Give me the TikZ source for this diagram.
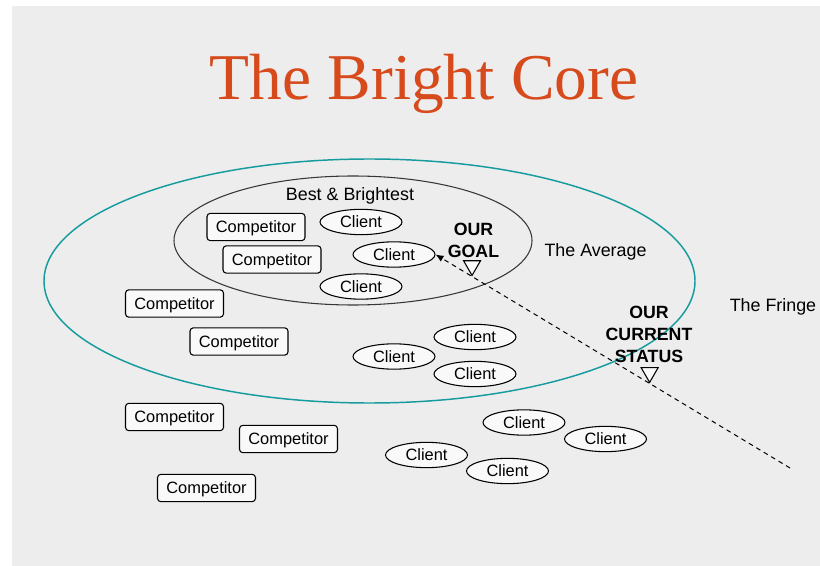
\documentclass[tikz,border=0pt]{standalone}
\usepackage{fontspec}
\setmainfont{Liberation Sans}
\newfontfamily\titlefont{Liberation Serif}
\usetikzlibrary{calc,shapes.geometric,arrows.meta}
\definecolor{coreorange}{RGB}{214,74,28}
\definecolor{coreteal}{RGB}{22,156,158}
\definecolor{coregray}{RGB}{237,237,237}
\definecolor{corefill}{RGB}{249,249,249}
\definecolor{coreline}{RGB}{55,55,55}

\begin{document}
\begin{tikzpicture}[x=0.75pt,y=-0.75pt,
    every node/.style={font=\fontsize{12.3}{14}\selectfont},
    competitor/.style={draw, rectangle, rounded corners=2.5pt, fill=corefill, line width=0.8pt,
      minimum width=73.5pt, minimum height=20.5pt, inner sep=0pt, text depth=0pt},
    client/.style={draw, ellipse, fill=corefill, line width=0.8pt,
      minimum width=61.5pt, minimum height=19pt, inner sep=0pt, text depth=0pt},
    zone/.style={ellipse, inner sep=0pt},
    zonelabel/.style={font=\fontsize{13.4}{16}\selectfont, anchor=base},
    status/.style={font=\bfseries\fontsize{13.3}{16.5}\selectfont, align=center},
    marker/.style={draw, fill=corefill, regular polygon, regular polygon sides=3,
      shape border rotate=180, minimum size=14.7pt, inner sep=0pt, line width=0.8pt,
      anchor=corner 1}]
  \useasboundingbox (0,0) rectangle (820,566);
  \fill[white] (0,0) rectangle (820,566);
  \fill[coregray] (12,6) rectangle (820,566);

  \node[anchor=base, text=coreorange, font=\titlefont\fontsize{49}{55}\selectfont] (title) at (424,100) {The Bright Core};

  % the three zones
  \node[zone, draw=coreteal, line width=1.1pt, minimum width=488.25pt, minimum height=183pt] (average) at (369.5,281) {};
  \node[zone, draw=coreline, line width=0.8pt, minimum width=268.5pt, minimum height=96.75pt] (best) at (353,240.5) {};

  \node[zonelabel] (bestlabel) at (350,201) {Best \& Brightest};
  \node[zonelabel] (avglabel) at (595.5,257) {The Average};
  \node[zonelabel] (fringelabel) at (773,311) {The Fringe};

  \node[competitor] (p1) at (256,227) {Competitor};
  \node[competitor] (p2) at (272,259.5) {Competitor};
  \node[competitor] (p3) at (174.5,303.5) {Competitor};
  \node[competitor] (p4) at (239,341.5) {Competitor};
  \node[competitor] (p5) at (174.5,417) {Competitor};
  \node[competitor] (p6) at (288.5,439) {Competitor};
  \node[competitor] (p7) at (206.5,488) {Competitor};

  \node[client] (c1) at (361,222) {Client};
  \node[client] (c2) at (394,254.5) {Client};
  \node[client] (c3) at (361,286.5) {Client};
  \node[client] (c4) at (475,337) {Client};
  \node[client] (c5) at (394,356.5) {Client};
  \node[client] (c6) at (475,374) {Client};
  \node[client] (c7) at (524,422.5) {Client};
  \node[client] (c8) at (605.5,439) {Client};
  \node[client] (c9) at (426.5,455) {Client};
  \node[client] (c10) at (507.5,471) {Client};

  % the way in from the fringe
  \coordinate (fringeend) at (790,468);
  \draw[line width=0.75pt, dash pattern=on 3.5pt off 3pt, -{Latex[length=6pt,width=5pt]}] (fringeend) -- (c2.east);
  \node[marker] (goalmark) at ($(fringeend)!0.897!(c2.east)$) {};
  \node[marker] (statusmark) at ($(fringeend)!0.396!(c2.east)$) {};

  \node[status] (goal) at (473.5,240) {OUR\\GOAL};
  \node[status] (current) at (649,334.5) {OUR\\CURRENT\\STATUS};
\end{tikzpicture}
\end{document}
